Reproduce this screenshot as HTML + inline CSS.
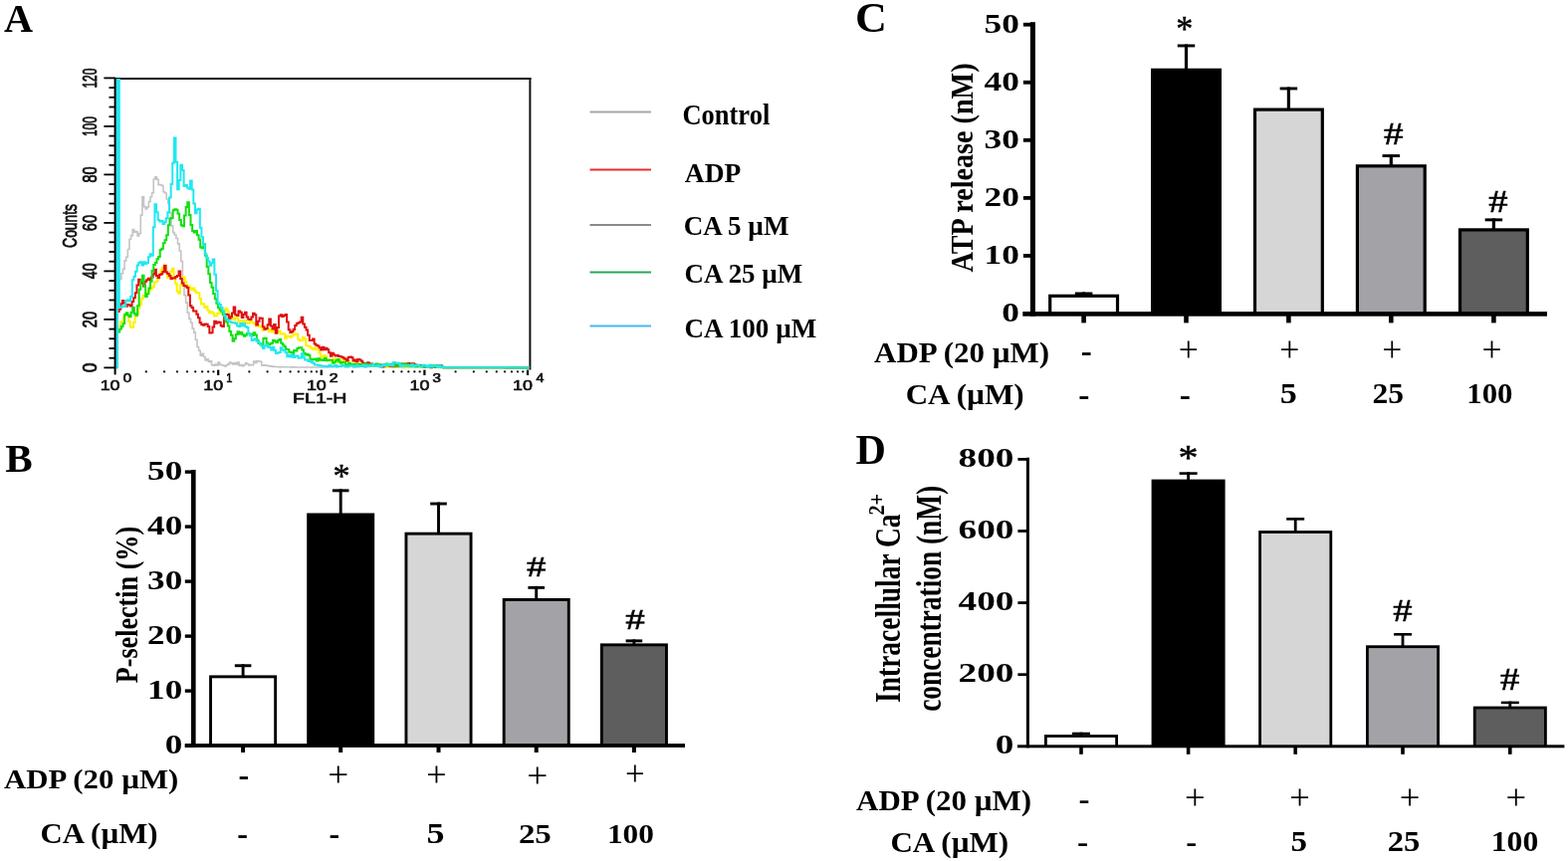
<!DOCTYPE html>
<html><head><meta charset="utf-8"><title>Figure</title>
<style>html,body{margin:0;padding:0;background:#fff;}svg{display:block;}</style>
</head><body>
<svg width="1575" height="865" viewBox="0 0 1575 865">
<rect width="1575" height="865" fill="#fff"/>
<text transform="translate(4.30,31.80) scale(0.9825,0.9980)" x="-0.41" y="0" font-family='"Liberation Serif", serif' font-weight="bold" font-size="41.00" fill="#000">A</text>
<text transform="translate(5.80,473.50) scale(1.0029,1.0017)" x="-0.61" y="0" font-family='"Liberation Serif", serif' font-weight="bold" font-size="41.00" fill="#000">B</text>
<text transform="translate(861.30,31.90) scale(1.0781,1.0315)" x="-2.05" y="0" font-family='"Liberation Serif", serif' font-weight="bold" font-size="41.00" fill="#000">C</text>
<text transform="translate(860.10,465.60) scale(1.0273,1.0166)" x="-0.61" y="0" font-family='"Liberation Serif", serif' font-weight="bold" font-size="41.00" fill="#000">D</text>
<rect x="242.65" y="667.30" width="2.90" height="13.10" fill="#000"/>
<rect x="235.80" y="667.30" width="16.60" height="2.90" fill="#000"/>
<rect x="210.10" y="678.40" width="68.00" height="70.60" fill="#000"/>
<rect x="213.00" y="681.30" width="62.20" height="67.70" fill="#fff"/>
<rect x="340.75" y="491.40" width="2.90" height="26.10" fill="#000"/>
<rect x="333.90" y="491.40" width="16.60" height="2.90" fill="#000"/>
<rect x="308.20" y="515.50" width="68.00" height="233.50" fill="#000"/>
<rect x="439.05" y="504.60" width="2.90" height="32.10" fill="#000"/>
<rect x="432.20" y="504.60" width="16.60" height="2.90" fill="#000"/>
<rect x="406.50" y="534.70" width="68.00" height="214.30" fill="#000"/>
<rect x="409.40" y="537.60" width="62.20" height="211.40" fill="#d6d6d6"/>
<rect x="537.25" y="588.90" width="2.90" height="14.10" fill="#000"/>
<rect x="530.40" y="588.90" width="16.60" height="2.90" fill="#000"/>
<rect x="504.70" y="601.00" width="68.00" height="148.00" fill="#000"/>
<rect x="507.60" y="603.90" width="62.20" height="145.10" fill="#a3a2a7"/>
<rect x="635.45" y="642.40" width="2.90" height="6.00" fill="#000"/>
<rect x="628.60" y="642.40" width="16.60" height="2.90" fill="#000"/>
<rect x="602.90" y="646.40" width="68.00" height="102.60" fill="#000"/>
<rect x="605.80" y="649.30" width="62.20" height="99.70" fill="#5e5e5e"/>
<rect x="192.00" y="472.00" width="4.60" height="278.90" fill="#000"/>
<rect x="185.80" y="747.10" width="502.20" height="3.80" fill="#000"/>
<rect x="185.80" y="747.40" width="8.50" height="3.40" fill="#000"/>
<rect x="185.80" y="692.40" width="8.50" height="3.40" fill="#000"/>
<rect x="185.80" y="637.40" width="8.50" height="3.40" fill="#000"/>
<rect x="185.80" y="582.40" width="8.50" height="3.40" fill="#000"/>
<rect x="185.80" y="527.40" width="8.50" height="3.40" fill="#000"/>
<rect x="185.80" y="472.40" width="8.50" height="3.40" fill="#000"/>
<rect x="242.10" y="749.00" width="4.00" height="7.00" fill="#000"/>
<rect x="340.20" y="749.00" width="4.00" height="7.00" fill="#000"/>
<rect x="438.50" y="749.00" width="4.00" height="7.00" fill="#000"/>
<rect x="536.70" y="749.00" width="4.00" height="7.00" fill="#000"/>
<rect x="634.90" y="749.00" width="4.00" height="7.00" fill="#000"/>
<rect x="1087.00" y="293.50" width="3.20" height="4.20" fill="#000"/>
<rect x="1079.85" y="293.50" width="17.50" height="2.90" fill="#000"/>
<rect x="1053.10" y="295.70" width="71.00" height="19.70" fill="#000"/>
<rect x="1056.30" y="298.90" width="64.60" height="16.50" fill="#fff"/>
<rect x="1189.90" y="44.50" width="3.20" height="26.20" fill="#000"/>
<rect x="1182.75" y="44.50" width="17.50" height="2.90" fill="#000"/>
<rect x="1156.00" y="68.70" width="71.00" height="246.70" fill="#000"/>
<rect x="1292.80" y="87.50" width="3.20" height="23.00" fill="#000"/>
<rect x="1285.65" y="87.50" width="17.50" height="2.90" fill="#000"/>
<rect x="1258.90" y="108.50" width="71.00" height="206.90" fill="#000"/>
<rect x="1262.10" y="111.70" width="64.60" height="203.70" fill="#d6d6d6"/>
<rect x="1395.70" y="155.10" width="3.20" height="12.10" fill="#000"/>
<rect x="1388.55" y="155.10" width="17.50" height="2.90" fill="#000"/>
<rect x="1361.80" y="165.20" width="71.00" height="150.20" fill="#000"/>
<rect x="1365.00" y="168.40" width="64.60" height="147.00" fill="#a3a2a7"/>
<rect x="1498.80" y="219.40" width="3.20" height="11.90" fill="#000"/>
<rect x="1491.65" y="219.40" width="17.50" height="2.90" fill="#000"/>
<rect x="1464.90" y="229.30" width="71.00" height="86.10" fill="#000"/>
<rect x="1468.10" y="232.50" width="64.60" height="82.90" fill="#5e5e5e"/>
<rect x="1034.90" y="22.20" width="5.00" height="295.50" fill="#000"/>
<rect x="1027.30" y="313.10" width="526.70" height="4.60" fill="#000"/>
<rect x="1027.90" y="313.10" width="9.50" height="3.80" fill="#000"/>
<rect x="1027.90" y="255.04" width="9.50" height="3.80" fill="#000"/>
<rect x="1027.90" y="196.98" width="9.50" height="3.80" fill="#000"/>
<rect x="1027.90" y="138.92" width="9.50" height="3.80" fill="#000"/>
<rect x="1027.90" y="80.86" width="9.50" height="3.80" fill="#000"/>
<rect x="1027.90" y="22.80" width="9.50" height="3.80" fill="#000"/>
<rect x="1086.30" y="315.40" width="4.60" height="9.00" fill="#000"/>
<rect x="1189.20" y="315.40" width="4.60" height="9.00" fill="#000"/>
<rect x="1292.10" y="315.40" width="4.60" height="9.00" fill="#000"/>
<rect x="1395.00" y="315.40" width="4.60" height="9.00" fill="#000"/>
<rect x="1498.10" y="315.40" width="4.60" height="9.00" fill="#000"/>
<rect x="1084.60" y="735.70" width="2.80" height="4.40" fill="#000"/>
<rect x="1077.00" y="735.70" width="18.00" height="2.60" fill="#000"/>
<rect x="1049.00" y="738.10" width="74.00" height="11.70" fill="#000"/>
<rect x="1051.80" y="740.90" width="68.40" height="8.90" fill="#fff"/>
<rect x="1192.20" y="474.30" width="2.80" height="9.30" fill="#000"/>
<rect x="1184.60" y="474.30" width="18.00" height="2.60" fill="#000"/>
<rect x="1156.60" y="481.60" width="74.00" height="268.20" fill="#000"/>
<rect x="1299.80" y="520.10" width="2.80" height="15.00" fill="#000"/>
<rect x="1292.20" y="520.10" width="18.00" height="2.60" fill="#000"/>
<rect x="1264.20" y="533.10" width="74.00" height="216.70" fill="#000"/>
<rect x="1267.00" y="535.90" width="68.40" height="213.90" fill="#d6d6d6"/>
<rect x="1407.60" y="636.00" width="2.80" height="14.30" fill="#000"/>
<rect x="1400.00" y="636.00" width="18.00" height="2.60" fill="#000"/>
<rect x="1372.00" y="648.30" width="74.00" height="101.50" fill="#000"/>
<rect x="1374.80" y="651.10" width="68.40" height="98.70" fill="#a3a2a7"/>
<rect x="1515.40" y="704.60" width="2.80" height="7.00" fill="#000"/>
<rect x="1507.80" y="704.60" width="18.00" height="2.60" fill="#000"/>
<rect x="1479.80" y="709.60" width="74.00" height="40.20" fill="#000"/>
<rect x="1482.60" y="712.40" width="68.40" height="37.40" fill="#5e5e5e"/>
<rect x="1030.90" y="459.70" width="3.00" height="291.60" fill="#000"/>
<rect x="1022.00" y="748.30" width="549.40" height="3.00" fill="#000"/>
<rect x="1022.40" y="676.30" width="10.00" height="2.80" fill="#000"/>
<rect x="1022.40" y="604.20" width="10.00" height="2.80" fill="#000"/>
<rect x="1022.40" y="532.10" width="10.00" height="2.80" fill="#000"/>
<rect x="1022.40" y="460.00" width="10.00" height="2.80" fill="#000"/>
<rect x="1084.20" y="749.80" width="3.60" height="8.00" fill="#000"/>
<rect x="1191.80" y="749.80" width="3.60" height="8.00" fill="#000"/>
<rect x="1299.40" y="749.80" width="3.60" height="8.00" fill="#000"/>
<rect x="1407.20" y="749.80" width="3.60" height="8.00" fill="#000"/>
<rect x="1515.00" y="749.80" width="3.60" height="8.00" fill="#000"/>
<line x1="115.60" y1="79.00" x2="533.40" y2="79.00" stroke="#111" stroke-width="2.00"/>
<line x1="532.40" y1="78.00" x2="532.40" y2="371.50" stroke="#111" stroke-width="2.00"/>
<path d="M118.60,182.00 V282.00 H120.22 V280.45 H121.84 V274.80 H123.46 V270.38 H125.08 V261.83 H126.70 V258.27 H128.32 V250.56 H129.94 V240.55 H131.56 V236.58 H133.18 V230.56 H134.80 V233.14 H136.42 V232.63 H138.04 V237.02 H139.66 V234.55 H141.28 V216.16 H142.90 V197.81 H144.52 V207.61 H146.14 V209.85 H147.76 V207.97 H149.38 V202.60 H151.00 V197.78 H152.62 V193.78 H154.24 V179.96 H155.86 V177.82 H157.48 V180.23 H159.10 V185.73 H160.72 V185.62 H162.34 V186.56 H163.96 V192.82 H165.58 V194.05 H167.20 V199.94 H168.82 V204.34 H170.44 V213.68 H172.06 V226.91 H173.68 V233.65 H175.30 V236.06 H176.92 V239.55 H178.54 V244.87 H180.16 V252.03 H181.78 V262.45 H183.40 V280.71 H185.02 V296.60 H186.64 V304.08 H188.26 V314.14 H189.88 V320.26 H191.50 V324.24 H193.12 V330.00 H194.74 V334.09 H196.36 V341.18 H197.98 V348.44 H199.60 V352.18 H201.22 V357.16 H202.84 V355.30 H204.46 V358.55 H206.08 V361.97 H207.70 V360.85 H209.32 V363.56 H210.94 V362.81 H212.56 V366.81 H214.18 V367.26 H215.80 V366.00 H217.42 V366.91 H219.04 V364.02 H220.66 V366.40 H222.28 V366.78 H223.90 V367.19 H225.52 V367.98 H227.14 V366.76 H228.76 V365.88 H230.38 V364.11 H232.00 V364.92 H233.62 V366.02 H235.24 V364.59 H236.86 V366.07 H238.48 V364.06 H240.10 V367.13 H241.72 V366.48 H243.34 V367.59 H244.96 V366.43 H246.58 V364.68 H248.20 V365.78 H249.82 V366.93 H251.44 V366.46 H253.06 V366.59 H254.68 V363.14 H256.30 V364.47 H257.92 V362.57 H259.54 V362.98 H261.16 V363.41 H262.78 V367.23 H264.40 V366.74 H266.02 V367.15 H267.64 V367.40 H269.26 V367.64 H270.88 V367.88 H272.50 V368.13 H274.12 V368.37 H275.74 V368.51 H277.36 V368.55 H278.98 V368.58 H280.60 V368.61 H282.22 V368.64 H283.84 V368.68 H285.46 V368.71 H287.08 V368.74 H288.70 V368.77 H290.32 V368.81 H291.94 V368.84 H293.56 V368.87 H295.18 V368.90 H296.80 V368.94 H298.42 V368.97 H300.04 V369.00 H301.66 V369.00 H303.28 V369.00 H304.90 V369.00 H306.52 V369.00 H308.14 V369.00 H309.76 V369.00 H311.38 V369.00 H313.00 V369.00 H314.62 V369.00 H316.24 V369.00 H317.86 V369.00 H319.48 V369.00 H321.10 V369.00 H322.72 V369.00 H324.34 V369.00 H325.96 V369.00 H327.58 V369.00 H329.20 V369.00 H330.82 V368.72 H332.44 V368.47 H334.06 V368.16 H335.68 V367.12 H337.30 V368.87 H338.92 V368.07 H340.54 V367.85 H342.16 V367.13 H343.78 V367.28 H345.40 V367.19 H347.02 V368.49 H348.64 V368.20 H350.26 V368.33 H351.88 V367.19 H353.50 V367.03 H355.12 V368.82 H356.74 V368.77 H358.36 V368.66 H359.98 V368.67 H361.60 V368.12 H363.22 V367.90 H364.84 V368.63 H366.46 V369.21 H368.08 V368.31 H369.70 V368.43 H371.32 V368.00 H372.94 V367.16 H374.56 V367.75 H376.18 V368.14 H377.80 V367.93 H379.42 V367.81 H381.04 V369.18 H382.66 V367.33 H384.28 V367.59 H385.90 V367.39 H387.52 V367.56 H389.14 V368.45 H390.76 V368.44 H392.38 V369.09 H394.00 V367.93 H395.62 V369.19 H397.24 V369.18 H398.86 V368.87 H400.48 V368.98 H402.10 V368.59 H403.72 V369.22 H405.34 V369.34 H406.96 V369.01 H408.58 V369.12 H410.20 V368.55 H411.82 V369.30 H413.44 V367.43 H415.06 V368.01 H416.68 V369.03 H418.30 V368.81 H419.92 V368.60 H421.54 V368.57 H423.16 V369.10 H424.78 V367.51 H426.40 V367.19 H428.02 V368.35 H429.64 V368.32 H431.26 V369.20 H432.88 V369.16 H434.50 V368.64 H436.12 V368.81 H437.74 V367.57 H439.36 V369.04 H440.98 V369.35 H442.60 V367.31 H444.22 V368.24 H445.84 V369.40 H447.46 V369.40 H449.08 V369.40 H450.70 V369.40 H452.32 V369.40 H453.94 V369.40 H455.56 V369.40 H457.18 V369.40 H458.80 V369.40 H460.42 V369.40 H462.04 V369.40 H463.66 V369.40 H465.28 V369.40 H466.90 V369.40 H468.52 V369.40 H470.14 V369.40 H471.76 V369.40 H473.38 V369.40 H475.00 V369.40 H476.62 V369.40 H478.24 V369.40 H479.86 V369.40 H481.48 V369.40 H483.10 V369.40 H484.72 V369.40 H486.34 V369.40 H487.96 V369.40 H489.58 V369.40 H491.20 V369.40 H492.82 V369.40 H494.44 V369.40 H496.06 V369.40 H497.68 V369.40 H499.30 V369.40 H500.92 V369.40 H502.54 V369.40 H504.16 V369.40 H505.78 V369.40 H507.40 V369.40 H509.02 V369.40 H510.64 V369.40 H512.26 V369.40 H513.88 V369.40 H515.50 V369.40 H517.12 V369.40 H518.74 V369.40 H520.36 V369.40 H521.98 V369.40 H523.60 V369.40 H525.22 V369.40 H526.84 V369.40 H528.46 V369.40 H530.08 V369.40 H531.40 V369.40" fill="none" stroke="#c4c4c4" stroke-width="1.60" stroke-linejoin="miter"/>
<path d="M119.40,327.40 H121.02 V323.59 H122.64 V323.08 H124.26 V318.29 H125.88 V316.60 H127.50 V316.62 H129.12 V322.70 H130.74 V328.55 H132.36 V329.02 H133.98 V323.92 H135.60 V317.73 H137.22 V315.54 H138.84 V309.62 H140.46 V305.85 H142.08 V300.13 H143.70 V296.86 H145.32 V296.64 H146.94 V294.60 H148.56 V292.25 H150.18 V290.82 H151.80 V289.64 H153.42 V288.07 H155.04 V283.83 H156.66 V282.97 H158.28 V280.12 H159.90 V275.12 H161.52 V271.43 H163.14 V268.85 H164.76 V265.92 H166.38 V272.69 H168.00 V278.71 H169.62 V278.76 H171.24 V272.76 H172.86 V269.67 H174.48 V278.41 H176.10 V284.65 H177.72 V292.77 H179.34 V294.86 H180.96 V286.52 H182.58 V278.35 H184.20 V278.61 H185.82 V283.55 H187.44 V287.01 H189.06 V287.50 H190.68 V289.47 H192.30 V291.33 H193.92 V289.39 H195.54 V292.60 H197.16 V294.22 H198.78 V294.17 H200.40 V299.93 H202.02 V305.42 H203.64 V305.18 H205.26 V308.95 H206.88 V308.04 H208.50 V311.75 H210.12 V314.15 H211.74 V313.26 H213.36 V314.65 H214.98 V317.44 H216.60 V316.86 H218.22 V314.81 H219.84 V314.36 H221.46 V313.21 H223.08 V315.27 H224.70 V313.58 H226.32 V309.78 H227.94 V311.97 H229.56 V316.03 H231.18 V320.26 H232.80 V319.55 H234.42 V321.06 H236.04 V319.50 H237.66 V319.15 H239.28 V323.52 H240.90 V322.37 H242.52 V322.14 H244.14 V324.24 H245.76 V322.35 H247.38 V324.59 H249.00 V324.70 H250.62 V322.60 H252.24 V323.61 H253.86 V324.62 H255.48 V325.22 H257.10 V327.58 H258.72 V326.85 H260.34 V328.24 H261.96 V327.65 H263.58 V331.76 H265.20 V329.77 H266.82 V330.47 H268.44 V331.25 H270.06 V332.90 H271.68 V331.02 H273.30 V333.48 H274.92 V331.92 H276.54 V332.33 H278.16 V333.17 H279.78 V332.24 H281.40 V335.38 H283.02 V335.37 H284.64 V335.57 H286.26 V340.06 H287.88 V337.46 H289.50 V338.24 H291.12 V338.79 H292.74 V337.50 H294.36 V335.84 H295.98 V336.02 H297.60 V335.53 H299.22 V340.66 H300.84 V342.32 H302.46 V342.28 H304.08 V338.87 H305.70 V340.82 H307.32 V347.21 H308.94 V347.45 H310.56 V348.24 H312.18 V349.66 H313.80 V350.90 H315.42 V349.49 H317.04 V350.90 H318.66 V351.34 H320.28 V354.61 H321.90 V358.65 H323.52 V357.88 H325.14 V357.21 H326.76 V357.89 H328.38 V361.21 H330.00 V361.44 H331.62 V362.62 H333.24 V363.12 H334.86 V360.32 H336.48 V361.84 H338.10 V363.74 H339.72 V363.75 H341.34 V361.13 H342.96 V361.54 H344.58 V363.43 H346.20 V362.29 H347.82 V363.51 H349.44 V363.12 H351.06 V366.07 H352.68 V366.90 H354.30 V367.73 H355.92 V364.80 H357.54 V365.07 H359.16 V365.37 H360.78 V366.65 H362.40 V365.17 H364.02 V365.13 H365.64 V366.92 H367.26 V365.46 H368.88 V366.82 H370.50 V366.77 H372.12 V365.81 H373.74 V366.30 H375.36 V367.93 H376.98 V367.48 H378.60 V367.44 H380.22 V367.96 H381.84 V368.29 H383.46 V368.03 H385.08 V367.16 H386.70 V368.72 H388.32 V367.56 H389.94 V367.83 H391.56 V368.78 H393.18 V368.10 H394.80 V367.48 H396.42 V367.74 H398.04 V368.74 H399.66 V366.73 H401.28 V367.18 H402.90 V366.79 H404.52 V368.71 H406.14 V368.38 H407.76 V368.89 H409.38 V367.28 H411.00 V368.42 H412.62 V368.74 H414.24 V368.11 H415.86 V367.05 H417.48 V367.27 H419.10 V368.52 H420.72 V368.78 H422.34 V367.10 H423.96 V367.88 H425.58 V367.61 H427.20 V368.98 H428.82 V369.06 H430.44 V367.69 H432.06 V368.28 H433.68 V369.08 H435.30 V367.19 H436.92 V367.87 H438.54 V367.52 H440.16 V369.12 H441.78 V367.42 H443.40 V369.16 H445.02 V369.31 H446.64 V369.31 H448.26 V369.31 H449.88 V369.31 H451.50 V369.31 H453.12 V369.31 H454.74 V369.32 H456.36 V369.32 H457.98 V369.32 H459.60 V369.32 H461.22 V369.32 H462.84 V369.32 H464.46 V369.33 H466.08 V369.33 H467.70 V369.33 H469.32 V369.33 H470.94 V369.33 H472.56 V369.34 H474.18 V369.34 H475.80 V369.34 H477.42 V369.34 H479.04 V369.34 H480.66 V369.34 H482.28 V369.35 H483.90 V369.35 H485.52 V369.35 H487.14 V369.35 H488.76 V369.35 H490.38 V369.35 H492.00 V369.36 H493.62 V369.36 H495.24 V369.36 H496.86 V369.36 H498.48 V369.36 H500.10 V369.36 H501.72 V369.37 H503.34 V369.37 H504.96 V369.37 H506.58 V369.37 H508.20 V369.37 H509.82 V369.38 H511.44 V369.38 H513.06 V369.38 H514.68 V369.38 H516.30 V369.38 H517.92 V369.38 H519.54 V369.39 H521.16 V369.39 H522.78 V369.39 H524.40 V369.39 H526.02 V369.39 H527.64 V369.39 H529.26 V369.40 H530.88 V369.40 H531.40 V369.40" fill="none" stroke="#fbf200" stroke-width="2.00" stroke-linejoin="miter"/>
<path d="M118.00,313.00 H119.62 V310.78 H121.24 V305.16 H122.86 V302.05 H124.48 V304.61 H126.10 V307.72 H127.72 V305.92 H129.34 V306.41 H130.96 V307.50 H132.58 V302.99 H134.20 V299.18 H135.82 V294.17 H137.44 V286.50 H139.06 V280.85 H140.68 V282.99 H142.30 V284.61 H143.92 V287.43 H145.54 V282.79 H147.16 V281.14 H148.78 V279.64 H150.40 V280.97 H152.02 V278.42 H153.64 V275.62 H155.26 V270.76 H156.88 V276.99 H158.50 V279.12 H160.12 V275.91 H161.74 V275.18 H163.36 V273.07 H164.98 V267.04 H166.60 V273.45 H168.22 V275.03 H169.84 V277.02 H171.46 V279.90 H173.08 V279.34 H174.70 V279.62 H176.32 V278.07 H177.94 V277.03 H179.56 V272.62 H181.18 V279.97 H182.80 V284.61 H184.42 V287.02 H186.04 V287.62 H187.66 V288.99 H189.28 V296.38 H190.90 V307.27 H192.52 V308.89 H194.14 V312.51 H195.76 V312.47 H197.38 V315.79 H199.00 V319.17 H200.62 V324.19 H202.24 V326.01 H203.86 V326.64 H205.48 V325.48 H207.10 V325.86 H208.72 V327.97 H210.34 V334.39 H211.96 V334.34 H213.58 V328.52 H215.20 V322.83 H216.82 V324.74 H218.44 V323.62 H220.06 V323.76 H221.68 V327.24 H223.30 V328.05 H224.92 V317.06 H226.54 V315.70 H228.16 V316.20 H229.78 V319.94 H231.40 V318.15 H233.02 V314.55 H234.64 V308.57 H236.26 V316.15 H237.88 V316.91 H239.50 V312.58 H241.12 V313.83 H242.74 V318.92 H244.36 V315.69 H245.98 V313.75 H247.60 V318.55 H249.22 V320.78 H250.84 V320.95 H252.46 V318.56 H254.08 V314.73 H255.70 V316.28 H257.32 V326.47 H258.94 V322.71 H260.56 V319.38 H262.18 V319.66 H263.80 V328.14 H265.42 V330.72 H267.04 V329.97 H268.66 V326.34 H270.28 V320.43 H271.90 V327.56 H273.52 V330.57 H275.14 V326.08 H276.76 V334.85 H278.38 V328.90 H280.00 V317.43 H281.62 V316.31 H283.24 V318.10 H284.86 V316.88 H286.48 V316.08 H288.10 V323.48 H289.72 V331.16 H291.34 V334.03 H292.96 V333.10 H294.58 V330.97 H296.20 V326.92 H297.82 V324.98 H299.44 V324.15 H301.06 V323.53 H302.68 V318.79 H304.30 V325.62 H305.92 V328.65 H307.54 V331.60 H309.16 V336.79 H310.78 V341.98 H312.40 V341.95 H314.02 V340.62 H315.64 V345.45 H317.26 V346.85 H318.88 V347.40 H320.50 V349.21 H322.12 V351.41 H323.74 V348.76 H325.36 V351.30 H326.98 V349.73 H328.60 V351.23 H330.22 V354.35 H331.84 V357.69 H333.46 V354.72 H335.08 V356.41 H336.70 V357.49 H338.32 V356.99 H339.94 V358.12 H341.56 V358.34 H343.18 V358.84 H344.80 V359.69 H346.42 V360.69 H348.04 V362.41 H349.66 V359.09 H351.28 V358.57 H352.90 V359.33 H354.52 V362.47 H356.14 V361.54 H357.76 V363.24 H359.38 V361.05 H361.00 V361.51 H362.62 V362.67 H364.24 V364.76 H365.86 V365.18 H367.48 V365.43 H369.10 V364.35 H370.72 V366.01 H372.34 V365.57 H373.96 V366.04 H375.58 V367.24 H377.20 V365.98 H378.82 V367.94 H380.44 V366.53 H382.06 V366.57 H383.68 V368.53 H385.30 V367.50 H386.92 V366.65 H388.54 V366.27 H390.16 V367.36 H391.78 V367.70 H393.40 V367.77 H395.02 V366.09 H396.64 V367.65 H398.26 V366.78 H399.88 V367.69 H401.50 V366.70 H403.12 V365.59 H404.74 V367.23 H406.36 V365.56 H407.98 V366.08 H409.60 V365.09 H411.22 V365.33 H412.84 V366.42 H414.46 V365.19 H416.08 V366.34 H417.70 V367.60 H419.32 V367.89 H420.94 V367.04 H422.56 V367.34 H424.18 V367.88 H425.80 V368.44 H427.42 V368.21 H429.04 V368.48 H430.66 V367.45 H432.28 V369.30 H433.90 V367.65 H435.52 V367.46 H437.14 V369.04 H438.76 V367.27 H440.38 V367.74 H442.00 V367.33 H443.62 V368.68 H445.24 V369.31 H446.86 V369.32 H448.48 V369.32 H450.10 V369.32 H451.72 V369.32 H453.34 V369.32 H454.96 V369.32 H456.58 V369.33 H458.20 V369.33 H459.82 V369.33 H461.44 V369.33 H463.06 V369.33 H464.68 V369.33 H466.30 V369.34 H467.92 V369.34 H469.54 V369.34 H471.16 V369.34 H472.78 V369.34 H474.40 V369.34 H476.02 V369.34 H477.64 V369.35 H479.26 V369.35 H480.88 V369.35 H482.50 V369.35 H484.12 V369.35 H485.74 V369.35 H487.36 V369.36 H488.98 V369.36 H490.60 V369.36 H492.22 V369.36 H493.84 V369.36 H495.46 V369.36 H497.08 V369.37 H498.70 V369.37 H500.32 V369.37 H501.94 V369.37 H503.56 V369.37 H505.18 V369.37 H506.80 V369.37 H508.42 V369.38 H510.04 V369.38 H511.66 V369.38 H513.28 V369.38 H514.90 V369.38 H516.52 V369.38 H518.14 V369.39 H519.76 V369.39 H521.38 V369.39 H523.00 V369.39 H524.62 V369.39 H526.24 V369.39 H527.86 V369.40 H529.48 V369.40 H531.10 V369.40 H531.40 V369.40" fill="none" stroke="#e01010" stroke-width="2.00" stroke-linejoin="miter"/>
<path d="M118.60,333.60 H120.22 V330.46 H121.84 V327.98 H123.46 V325.23 H125.08 V316.06 H126.70 V314.16 H128.32 V316.63 H129.94 V318.13 H131.56 V313.79 H133.18 V309.11 H134.80 V315.20 H136.42 V316.86 H138.04 V307.16 H139.66 V290.73 H141.28 V282.57 H142.90 V276.80 H144.52 V287.56 H146.14 V297.95 H147.76 V295.13 H149.38 V289.44 H151.00 V282.66 H152.62 V272.09 H154.24 V266.10 H155.86 V264.04 H157.48 V260.15 H159.10 V257.92 H160.72 V250.92 H162.34 V249.87 H163.96 V244.36 H165.58 V241.37 H167.20 V236.31 H168.82 V226.29 H170.44 V219.38 H172.06 V218.88 H173.68 V211.13 H175.30 V210.17 H176.92 V210.65 H178.54 V214.69 H180.16 V221.05 H181.78 V226.25 H183.40 V227.14 H185.02 V216.61 H186.64 V208.12 H188.26 V203.21 H189.88 V215.96 H191.50 V226.01 H193.12 V231.89 H194.74 V233.44 H196.36 V232.10 H197.98 V236.37 H199.60 V240.67 H201.22 V248.55 H202.84 V249.24 H204.46 V245.22 H206.08 V256.63 H207.70 V267.91 H209.32 V275.14 H210.94 V283.92 H212.56 V288.85 H214.18 V294.88 H215.80 V300.34 H217.42 V304.99 H219.04 V309.19 H220.66 V311.39 H222.28 V312.71 H223.90 V316.33 H225.52 V320.50 H227.14 V323.54 H228.76 V327.47 H230.38 V332.96 H232.00 V336.85 H233.62 V342.83 H235.24 V340.23 H236.86 V336.06 H238.48 V333.30 H240.10 V335.53 H241.72 V333.89 H243.34 V336.32 H244.96 V337.79 H246.58 V336.54 H248.20 V334.83 H249.82 V335.37 H251.44 V335.86 H253.06 V336.93 H254.68 V334.21 H256.30 V336.54 H257.92 V341.80 H259.54 V344.91 H261.16 V345.79 H262.78 V347.27 H264.40 V339.93 H266.02 V339.66 H267.64 V344.47 H269.26 V346.47 H270.88 V345.48 H272.50 V344.78 H274.12 V341.81 H275.74 V342.82 H277.36 V344.10 H278.98 V341.92 H280.60 V340.85 H282.22 V344.75 H283.84 V346.53 H285.46 V348.29 H287.08 V350.75 H288.70 V351.35 H290.32 V353.82 H291.94 V353.64 H293.56 V357.08 H295.18 V352.05 H296.80 V352.46 H298.42 V349.95 H300.04 V349.26 H301.66 V349.29 H303.28 V351.39 H304.90 V354.70 H306.52 V356.59 H308.14 V355.63 H309.76 V357.07 H311.38 V360.69 H313.00 V361.45 H314.62 V360.92 H316.24 V360.53 H317.86 V362.52 H319.48 V360.25 H321.10 V361.87 H322.72 V361.31 H324.34 V361.88 H325.96 V359.89 H327.58 V362.27 H329.20 V361.79 H330.82 V361.63 H332.44 V361.69 H334.06 V364.83 H335.68 V363.70 H337.30 V361.95 H338.92 V360.91 H340.54 V363.49 H342.16 V364.74 H343.78 V364.10 H345.40 V363.86 H347.02 V366.15 H348.64 V367.70 H350.26 V364.96 H351.88 V366.42 H353.50 V366.08 H355.12 V366.23 H356.74 V365.98 H358.36 V367.26 H359.98 V365.95 H361.60 V366.07 H363.22 V366.59 H364.84 V367.25 H366.46 V365.57 H368.08 V367.01 H369.70 V365.90 H371.32 V367.19 H372.94 V367.21 H374.56 V366.03 H376.18 V367.05 H377.80 V365.61 H379.42 V366.61 H381.04 V367.28 H382.66 V367.18 H384.28 V366.74 H385.90 V366.18 H387.52 V365.54 H389.14 V367.29 H390.76 V366.73 H392.38 V367.11 H394.00 V365.42 H395.62 V367.23 H397.24 V367.41 H398.86 V367.38 H400.48 V366.66 H402.10 V365.63 H403.72 V365.74 H405.34 V366.16 H406.96 V365.65 H408.58 V365.88 H410.20 V367.29 H411.82 V367.68 H413.44 V366.11 H415.06 V366.61 H416.68 V368.26 H418.30 V366.95 H419.92 V367.66 H421.54 V367.73 H423.16 V367.88 H424.78 V368.29 H426.40 V368.72 H428.02 V368.17 H429.64 V368.06 H431.26 V366.79 H432.88 V368.68 H434.50 V366.89 H436.12 V368.61 H437.74 V368.34 H439.36 V367.37 H440.98 V367.39 H442.60 V368.25 H444.22 V369.10 H445.84 V369.21 H447.46 V369.22 H449.08 V369.22 H450.70 V369.22 H452.32 V369.23 H453.94 V369.23 H455.56 V369.23 H457.18 V369.24 H458.80 V369.24 H460.42 V369.24 H462.04 V369.25 H463.66 V369.25 H465.28 V369.25 H466.90 V369.26 H468.52 V369.26 H470.14 V369.26 H471.76 V369.27 H473.38 V369.27 H475.00 V369.28 H476.62 V369.28 H478.24 V369.28 H479.86 V369.29 H481.48 V369.29 H483.10 V369.29 H484.72 V369.30 H486.34 V369.30 H487.96 V369.30 H489.58 V369.31 H491.20 V369.31 H492.82 V369.31 H494.44 V369.32 H496.06 V369.32 H497.68 V369.32 H499.30 V369.33 H500.92 V369.33 H502.54 V369.33 H504.16 V369.34 H505.78 V369.34 H507.40 V369.34 H509.02 V369.35 H510.64 V369.35 H512.26 V369.36 H513.88 V369.36 H515.50 V369.36 H517.12 V369.37 H518.74 V369.37 H520.36 V369.37 H521.98 V369.38 H523.60 V369.38 H525.22 V369.38 H526.84 V369.39 H528.46 V369.39 H530.08 V369.39 H531.40 V369.40" fill="none" stroke="#10e010" stroke-width="2.00" stroke-linejoin="miter"/>
<path d="M119.80,79.00 V308.70 H121.42 V308.58 H123.04 V307.42 H124.66 V307.65 H126.28 V302.28 H127.90 V301.33 H129.52 V302.58 H131.14 V297.68 H132.76 V281.34 H134.38 V277.68 H136.00 V272.66 H137.62 V266.56 H139.24 V264.06 H140.86 V263.18 H142.48 V266.53 H144.10 V263.20 H145.72 V264.94 H147.34 V264.05 H148.96 V258.31 H150.58 V255.24 H152.20 V256.69 H153.82 V228.30 H155.44 V205.32 H157.06 V213.29 H158.68 V220.97 H160.30 V222.41 H161.92 V222.02 H163.54 V225.10 H165.16 V223.18 H166.78 V219.31 H168.40 V213.37 H170.02 V198.58 H171.64 V184.88 H173.26 V163.68 H174.88 V138.53 H176.50 V162.87 H178.12 V190.30 H179.74 V180.94 H181.36 V165.69 H182.98 V170.96 H184.60 V186.98 H186.22 V186.05 H187.84 V188.45 H189.46 V189.63 H191.08 V181.55 H192.70 V190.55 H194.32 V204.40 H195.94 V214.29 H197.56 V210.60 H199.18 V209.85 H200.80 V228.66 H202.42 V238.23 H204.04 V245.64 H205.66 V254.97 H207.28 V258.89 H208.90 V262.49 H210.52 V266.76 H212.14 V264.22 H213.76 V260.57 H215.38 V275.68 H217.00 V292.11 H218.62 V304.24 H220.24 V305.97 H221.86 V308.97 H223.48 V312.23 H225.10 V317.20 H226.72 V320.56 H228.34 V321.57 H229.96 V322.81 H231.58 V323.72 H233.20 V324.36 H234.82 V324.34 H236.44 V325.04 H238.06 V327.14 H239.68 V328.00 H241.30 V324.98 H242.92 V327.34 H244.54 V325.23 H246.16 V328.05 H247.78 V328.97 H249.40 V335.14 H251.02 V337.33 H252.64 V341.97 H254.26 V341.30 H255.88 V340.24 H257.50 V342.79 H259.12 V343.73 H260.74 V344.90 H262.36 V347.49 H263.98 V349.90 H265.60 V347.49 H267.22 V346.00 H268.84 V348.68 H270.46 V348.97 H272.08 V351.43 H273.70 V348.65 H275.32 V351.91 H276.94 V355.04 H278.56 V354.59 H280.18 V353.96 H281.80 V349.16 H283.42 V351.41 H285.04 V352.26 H286.66 V354.19 H288.28 V358.20 H289.90 V356.76 H291.52 V358.56 H293.14 V356.42 H294.76 V359.11 H296.38 V357.80 H298.00 V357.49 H299.62 V359.63 H301.24 V359.60 H302.86 V355.24 H304.48 V359.35 H306.10 V361.40 H307.72 V361.57 H309.34 V363.03 H310.96 V362.82 H312.58 V363.90 H314.20 V364.74 H315.82 V366.59 H317.44 V366.48 H319.06 V366.81 H320.68 V367.14 H322.30 V367.48 H323.92 V367.74 H325.54 V367.84 H327.16 V367.95 H328.78 V368.06 H330.40 V366.74 H332.02 V367.83 H333.64 V368.37 H335.26 V367.78 H336.88 V367.12 H338.50 V368.29 H340.12 V368.00 H341.74 V368.24 H343.36 V366.93 H344.98 V367.46 H346.60 V368.52 H348.22 V368.43 H349.84 V367.77 H351.46 V367.43 H353.08 V367.22 H354.70 V368.42 H356.32 V368.25 H357.94 V367.08 H359.56 V367.70 H361.18 V367.97 H362.80 V367.91 H364.42 V366.48 H366.04 V367.88 H367.66 V367.31 H369.28 V367.77 H370.90 V367.63 H372.52 V366.63 H374.14 V366.34 H375.76 V367.72 H377.38 V368.08 H379.00 V366.90 H380.62 V368.01 H382.24 V368.33 H383.86 V366.24 H385.48 V367.18 H387.10 V366.19 H388.72 V366.98 H390.34 V365.82 H391.96 V366.63 H393.58 V367.17 H395.20 V364.04 H396.82 V364.61 H398.44 V364.90 H400.06 V364.76 H401.68 V368.02 H403.30 V366.90 H404.92 V367.49 H406.54 V367.25 H408.16 V368.08 H409.78 V367.82 H411.40 V367.35 H413.02 V366.50 H414.64 V368.35 H416.26 V367.55 H417.88 V366.91 H419.50 V366.59 H421.12 V368.33 H422.74 V368.53 H424.36 V366.78 H425.98 V366.76 H427.60 V367.89 H429.22 V368.88 H430.84 V367.00 H432.46 V368.23 H434.08 V367.14 H435.70 V367.81 H437.32 V367.41 H438.94 V368.92 H440.56 V367.57 H442.18 V368.81 H443.80 V368.41 H445.42 V369.31 H447.04 V369.31 H448.66 V369.31 H450.28 V369.31 H451.90 V369.31 H453.52 V369.31 H455.14 V369.32 H456.76 V369.32 H458.38 V369.32 H460.00 V369.32 H461.62 V369.32 H463.24 V369.32 H464.86 V369.33 H466.48 V369.33 H468.10 V369.33 H469.72 V369.33 H471.34 V369.33 H472.96 V369.34 H474.58 V369.34 H476.20 V369.34 H477.82 V369.34 H479.44 V369.34 H481.06 V369.34 H482.68 V369.35 H484.30 V369.35 H485.92 V369.35 H487.54 V369.35 H489.16 V369.35 H490.78 V369.35 H492.40 V369.36 H494.02 V369.36 H495.64 V369.36 H497.26 V369.36 H498.88 V369.36 H500.50 V369.37 H502.12 V369.37 H503.74 V369.37 H505.36 V369.37 H506.98 V369.37 H508.60 V369.37 H510.22 V369.38 H511.84 V369.38 H513.46 V369.38 H515.08 V369.38 H516.70 V369.38 H518.32 V369.38 H519.94 V369.39 H521.56 V369.39 H523.18 V369.39 H524.80 V369.39 H526.42 V369.39 H528.04 V369.39 H529.66 V369.40 H531.28 V369.40 H531.40 V369.40" fill="none" stroke="#20e8f0" stroke-width="2.00" stroke-linejoin="miter"/>
<rect x="116.50" y="79.00" width="2.50" height="291.40" fill="#20e8f0"/>
<rect x="114.60" y="78.00" width="2.00" height="298.40" fill="#000"/>
<rect x="104.40" y="368.50" width="11.60" height="1.80" fill="#000"/>
<rect x="109.50" y="358.80" width="6.50" height="1.80" fill="#000"/>
<rect x="109.50" y="349.10" width="6.50" height="1.80" fill="#000"/>
<rect x="109.50" y="339.40" width="6.50" height="1.80" fill="#000"/>
<rect x="109.50" y="329.70" width="6.50" height="1.80" fill="#000"/>
<rect x="104.40" y="320.00" width="11.60" height="1.80" fill="#000"/>
<rect x="109.50" y="310.30" width="6.50" height="1.80" fill="#000"/>
<rect x="109.50" y="300.60" width="6.50" height="1.80" fill="#000"/>
<rect x="109.50" y="290.90" width="6.50" height="1.80" fill="#000"/>
<rect x="109.50" y="281.20" width="6.50" height="1.80" fill="#000"/>
<rect x="104.40" y="271.50" width="11.60" height="1.80" fill="#000"/>
<rect x="109.50" y="261.80" width="6.50" height="1.80" fill="#000"/>
<rect x="109.50" y="252.10" width="6.50" height="1.80" fill="#000"/>
<rect x="109.50" y="242.40" width="6.50" height="1.80" fill="#000"/>
<rect x="109.50" y="232.70" width="6.50" height="1.80" fill="#000"/>
<rect x="104.40" y="223.00" width="11.60" height="1.80" fill="#000"/>
<rect x="109.50" y="213.30" width="6.50" height="1.80" fill="#000"/>
<rect x="109.50" y="203.60" width="6.50" height="1.80" fill="#000"/>
<rect x="109.50" y="193.90" width="6.50" height="1.80" fill="#000"/>
<rect x="109.50" y="184.20" width="6.50" height="1.80" fill="#000"/>
<rect x="104.40" y="174.50" width="11.60" height="1.80" fill="#000"/>
<rect x="109.50" y="164.80" width="6.50" height="1.80" fill="#000"/>
<rect x="109.50" y="155.10" width="6.50" height="1.80" fill="#000"/>
<rect x="109.50" y="145.40" width="6.50" height="1.80" fill="#000"/>
<rect x="109.50" y="135.70" width="6.50" height="1.80" fill="#000"/>
<rect x="104.40" y="126.00" width="11.60" height="1.80" fill="#000"/>
<rect x="109.50" y="116.30" width="6.50" height="1.80" fill="#000"/>
<rect x="109.50" y="106.60" width="6.50" height="1.80" fill="#000"/>
<rect x="109.50" y="96.90" width="6.50" height="1.80" fill="#000"/>
<rect x="109.50" y="87.20" width="6.50" height="1.80" fill="#000"/>
<rect x="104.40" y="77.50" width="11.60" height="1.80" fill="#000"/>
<circle cx="146.79" cy="373.4" r="1.15" fill="#111"/>
<circle cx="165.03" cy="373.4" r="1.15" fill="#111"/>
<circle cx="177.97" cy="373.4" r="1.15" fill="#111"/>
<circle cx="188.01" cy="373.4" r="1.15" fill="#111"/>
<circle cx="196.22" cy="373.4" r="1.15" fill="#111"/>
<circle cx="203.15" cy="373.4" r="1.15" fill="#111"/>
<circle cx="209.16" cy="373.4" r="1.15" fill="#111"/>
<circle cx="214.46" cy="373.4" r="1.15" fill="#111"/>
<rect x="218.10" y="371.60" width="2.20" height="5.40" fill="#000"/>
<circle cx="250.39" cy="373.4" r="1.15" fill="#111"/>
<circle cx="268.63" cy="373.4" r="1.15" fill="#111"/>
<circle cx="281.57" cy="373.4" r="1.15" fill="#111"/>
<circle cx="291.61" cy="373.4" r="1.15" fill="#111"/>
<circle cx="299.82" cy="373.4" r="1.15" fill="#111"/>
<circle cx="306.75" cy="373.4" r="1.15" fill="#111"/>
<circle cx="312.76" cy="373.4" r="1.15" fill="#111"/>
<circle cx="318.06" cy="373.4" r="1.15" fill="#111"/>
<rect x="321.70" y="371.60" width="2.20" height="5.40" fill="#000"/>
<circle cx="353.99" cy="373.4" r="1.15" fill="#111"/>
<circle cx="372.23" cy="373.4" r="1.15" fill="#111"/>
<circle cx="385.17" cy="373.4" r="1.15" fill="#111"/>
<circle cx="395.21" cy="373.4" r="1.15" fill="#111"/>
<circle cx="403.42" cy="373.4" r="1.15" fill="#111"/>
<circle cx="410.35" cy="373.4" r="1.15" fill="#111"/>
<circle cx="416.36" cy="373.4" r="1.15" fill="#111"/>
<circle cx="421.66" cy="373.4" r="1.15" fill="#111"/>
<rect x="425.30" y="371.60" width="2.20" height="5.40" fill="#000"/>
<circle cx="457.59" cy="373.4" r="1.15" fill="#111"/>
<circle cx="475.83" cy="373.4" r="1.15" fill="#111"/>
<circle cx="488.77" cy="373.4" r="1.15" fill="#111"/>
<circle cx="498.81" cy="373.4" r="1.15" fill="#111"/>
<circle cx="507.02" cy="373.4" r="1.15" fill="#111"/>
<circle cx="513.95" cy="373.4" r="1.15" fill="#111"/>
<circle cx="519.96" cy="373.4" r="1.15" fill="#111"/>
<circle cx="525.26" cy="373.4" r="1.15" fill="#111"/>
<rect x="528.90" y="371.60" width="2.20" height="5.40" fill="#000"/>
<text transform="translate(97.40,373.60) rotate(-90) scale(1.3462,1.5385)" x="-0.52" y="0" font-family='"Liberation Sans", sans-serif' font-weight="normal" font-size="13.00" fill="#111" stroke="#111" stroke-width="0.55">0</text>
<text transform="translate(97.40,328.40) rotate(-90) scale(1.1257,1.5385)" x="-0.65" y="0" font-family='"Liberation Sans", sans-serif' font-weight="normal" font-size="13.00" fill="#111" stroke="#111" stroke-width="0.55">20</text>
<text transform="translate(97.40,279.90) rotate(-90) scale(1.0937,1.5385)" x="-0.26" y="0" font-family='"Liberation Sans", sans-serif' font-weight="normal" font-size="13.00" fill="#111" stroke="#111" stroke-width="0.55">40</text>
<text transform="translate(97.40,231.40) rotate(-90) scale(1.1257,1.5385)" x="-0.65" y="0" font-family='"Liberation Sans", sans-serif' font-weight="normal" font-size="13.00" fill="#111" stroke="#111" stroke-width="0.55">60</text>
<text transform="translate(97.40,182.90) rotate(-90) scale(1.1202,1.5385)" x="-0.58" y="0" font-family='"Liberation Sans", sans-serif' font-weight="normal" font-size="13.00" fill="#111" stroke="#111" stroke-width="0.55">80</text>
<text transform="translate(97.40,136.20) rotate(-90) scale(0.9201,1.5385)" x="-0.97" y="0" font-family='"Liberation Sans", sans-serif' font-weight="normal" font-size="13.00" fill="#111" stroke="#111" stroke-width="0.55">100</text>
<text transform="translate(97.40,87.70) rotate(-90) scale(0.9201,1.5385)" x="-0.97" y="0" font-family='"Liberation Sans", sans-serif' font-weight="normal" font-size="13.00" fill="#111" stroke="#111" stroke-width="0.55">120</text>
<text transform="translate(77.00,248.20) rotate(-90) scale(1.0672,1.5942)" x="-0.65" y="0" font-family='"Liberation Sans", sans-serif' font-weight="normal" font-size="13.00" fill="#111" stroke="#111" stroke-width="0.55">Counts</text>
<text transform="translate(102.00,392.00) scale(1.3769,1.0814)" x="-0.97" y="0" font-family='"Liberation Sans", sans-serif' font-weight="normal" font-size="13.00" fill="#111" stroke="#111" stroke-width="0.55">10</text>
<text transform="translate(124.40,384.40) scale(1.5000,1.2754)" x="-0.40" y="0" font-family='"Liberation Sans", sans-serif' font-weight="normal" font-size="10.00" fill="#111" stroke="#111" stroke-width="0.55">0</text>
<text transform="translate(205.60,392.00) scale(1.3769,1.0814)" x="-0.97" y="0" font-family='"Liberation Sans", sans-serif' font-weight="normal" font-size="13.00" fill="#111" stroke="#111" stroke-width="0.55">10</text>
<text transform="translate(228.00,384.40) scale(1.1034,1.2754)" x="-0.75" y="0" font-family='"Liberation Sans", sans-serif' font-weight="normal" font-size="10.00" fill="#111" stroke="#111" stroke-width="0.55">1</text>
<text transform="translate(309.20,392.00) scale(1.3769,1.0814)" x="-0.97" y="0" font-family='"Liberation Sans", sans-serif' font-weight="normal" font-size="13.00" fill="#111" stroke="#111" stroke-width="0.55">10</text>
<text transform="translate(331.60,384.40) scale(1.5824,1.2754)" x="-0.50" y="0" font-family='"Liberation Sans", sans-serif' font-weight="normal" font-size="10.00" fill="#111" stroke="#111" stroke-width="0.55">2</text>
<text transform="translate(412.80,392.00) scale(1.3769,1.0814)" x="-0.97" y="0" font-family='"Liberation Sans", sans-serif' font-weight="normal" font-size="13.00" fill="#111" stroke="#111" stroke-width="0.55">10</text>
<text transform="translate(435.20,384.40) scale(1.5158,1.2754)" x="-0.40" y="0" font-family='"Liberation Sans", sans-serif' font-weight="normal" font-size="10.00" fill="#111" stroke="#111" stroke-width="0.55">3</text>
<text transform="translate(516.40,392.00) scale(1.3769,1.0814)" x="-0.97" y="0" font-family='"Liberation Sans", sans-serif' font-weight="normal" font-size="13.00" fill="#111" stroke="#111" stroke-width="0.55">10</text>
<text transform="translate(538.80,384.40) scale(1.4257,1.2754)" x="-0.20" y="0" font-family='"Liberation Sans", sans-serif' font-weight="normal" font-size="10.00" fill="#111" stroke="#111" stroke-width="0.55">4</text>
<text transform="translate(295.60,405.10) scale(1.5061,1.0702)" x="-1.04" y="0" font-family='"Liberation Sans", sans-serif' font-weight="normal" font-size="13.00" fill="#111" stroke="#111" stroke-width="0.55">FL1-H</text>
<line x1="592.50" y1="112.50" x2="654.00" y2="112.50" stroke="#a8a8a8" stroke-width="2.00"/>
<text transform="translate(686.70,125.30) scale(0.9648,1.0382)" x="-1.38" y="0" font-family='"Liberation Serif", serif' font-weight="bold" font-size="27.50" fill="#000">Control</text>
<line x1="592.50" y1="170.60" x2="654.00" y2="170.60" stroke="#e53030" stroke-width="2.00"/>
<text transform="translate(688.10,182.80) scale(0.9991,0.9938)" x="-0.28" y="0" font-family='"Liberation Serif", serif' font-weight="bold" font-size="27.50" fill="#000">ADP</text>
<line x1="592.50" y1="225.90" x2="654.00" y2="225.90" stroke="#8a8a8a" stroke-width="2.00"/>
<text transform="translate(688.10,235.70) scale(0.9836,1.0049)" x="-1.38" y="0" font-family='"Liberation Serif", serif' font-weight="bold" font-size="27.50" fill="#000">CA 5 µM</text>
<line x1="592.50" y1="273.40" x2="654.00" y2="273.40" stroke="#2aa85a" stroke-width="2.00"/>
<text transform="translate(688.90,284.30) scale(0.9784,0.9882)" x="-1.38" y="0" font-family='"Liberation Serif", serif' font-weight="bold" font-size="27.50" fill="#000">CA 25 µM</text>
<line x1="592.50" y1="327.50" x2="654.00" y2="327.50" stroke="#4ab8ee" stroke-width="2.00"/>
<text transform="translate(688.90,338.50) scale(0.9832,0.9882)" x="-1.38" y="0" font-family='"Liberation Serif", serif' font-weight="bold" font-size="27.50" fill="#000">CA 100 µM</text>
<text transform="translate(167.05,756.80) scale(1.2770,1.0000)" x="-1.10" y="0" font-family='"Liberation Serif", serif' font-weight="bold" font-size="27.50" fill="#000">0</text>
<text transform="translate(150.90,701.80) scale(1.2770,1.0000)" x="-2.20" y="0" font-family='"Liberation Serif", serif' font-weight="bold" font-size="27.50" fill="#000">10</text>
<text transform="translate(149.49,646.80) scale(1.2770,1.0000)" x="-1.10" y="0" font-family='"Liberation Serif", serif' font-weight="bold" font-size="27.50" fill="#000">20</text>
<text transform="translate(149.32,591.80) scale(1.2770,1.0000)" x="-0.96" y="0" font-family='"Liberation Serif", serif' font-weight="bold" font-size="27.50" fill="#000">30</text>
<text transform="translate(148.61,536.80) scale(1.2770,1.0000)" x="-0.41" y="0" font-family='"Liberation Serif", serif' font-weight="bold" font-size="27.50" fill="#000">40</text>
<text transform="translate(149.49,481.80) scale(1.2770,1.0000)" x="-1.10" y="0" font-family='"Liberation Serif", serif' font-weight="bold" font-size="27.50" fill="#000">50</text>
<text transform="translate(138.10,685.90) rotate(-90) scale(0.9504,1.1825)" x="-0.41" y="0" font-family='"Liberation Serif", serif' font-weight="bold" font-size="27.50" fill="#000">P-selectin (%)</text>
<text transform="translate(4.30,791.80) scale(1.1216,1.0160)" x="-0.28" y="0" font-family='"Liberation Serif", serif' font-weight="bold" font-size="27.50" fill="#000">ADP (20 µM)</text>
<text transform="translate(42.10,847.30) scale(1.1221,1.0437)" x="-1.38" y="0" font-family='"Liberation Serif", serif' font-weight="bold" font-size="27.50" fill="#000">CA (µM)</text>
<text transform="translate(239.48,790.25) scale(1.1401,1.2185)" x="0" y="0" font-family='"Liberation Serif", serif' font-weight="bold" font-size="28.00" fill="#000">-</text>
<text transform="translate(329.14,790.04) scale(1.3287,1.2538)" x="0" y="0" font-family='"Liberation Serif", serif' font-weight="normal" font-size="28.00" fill="#000">+</text>
<text transform="translate(428.19,790.31) scale(1.2903,1.2462)" x="0" y="0" font-family='"Liberation Serif", serif' font-weight="normal" font-size="28.00" fill="#000">+</text>
<text transform="translate(529.24,790.71) scale(1.3287,1.2462)" x="0" y="0" font-family='"Liberation Serif", serif' font-weight="normal" font-size="28.00" fill="#000">+</text>
<text transform="translate(627.96,789.11) scale(1.2442,1.2462)" x="0" y="0" font-family='"Liberation Serif", serif' font-weight="normal" font-size="28.00" fill="#000">+</text>
<text transform="translate(238.17,849.12) scale(1.1538,1.1765)" x="0" y="0" font-family='"Liberation Serif", serif' font-weight="bold" font-size="28.00" fill="#000">-</text>
<text transform="translate(330.58,849.12) scale(1.1401,1.1765)" x="0" y="0" font-family='"Liberation Serif", serif' font-weight="bold" font-size="28.00" fill="#000">-</text>
<text transform="translate(428.56,847.31) scale(1.2857,1.0204)" x="0" y="0" font-family='"Liberation Serif", serif' font-weight="bold" font-size="28.00" fill="#000">5</text>
<text transform="translate(520.88,847.32) scale(1.1776,1.0128)" x="0" y="0" font-family='"Liberation Serif", serif' font-weight="bold" font-size="28.00" fill="#000">25</text>
<text transform="translate(609.90,847.32) scale(1.1180,1.0053)" x="0" y="0" font-family='"Liberation Serif", serif' font-weight="bold" font-size="28.00" fill="#000">100</text>
<text transform="translate(334.50,489.37) scale(1.2143,1.2035)" x="0" y="0" font-family='"Liberation Serif", serif' font-weight="normal" font-size="28.00" fill="#000" stroke="#000" stroke-width="0.4">*</text>
<text transform="translate(529.12,579.00) scale(1.3898,1.0414)" x="0" y="0" font-family='"Liberation Serif", serif' font-weight="normal" font-size="28.00" fill="#000" stroke="#000" stroke-width="0.5">#</text>
<text transform="translate(628.22,631.90) scale(1.3975,1.0578)" x="0" y="0" font-family='"Liberation Serif", serif' font-weight="normal" font-size="28.00" fill="#000" stroke="#000" stroke-width="0.5">#</text>
<text transform="translate(1007.56,323.30) scale(1.2570,1.0000)" x="-1.12" y="0" font-family='"Liberation Serif", serif' font-weight="bold" font-size="28.10" fill="#000">0</text>
<text transform="translate(991.32,265.24) scale(1.2570,1.0000)" x="-2.25" y="0" font-family='"Liberation Serif", serif' font-weight="bold" font-size="28.10" fill="#000">10</text>
<text transform="translate(989.90,207.18) scale(1.2570,1.0000)" x="-1.12" y="0" font-family='"Liberation Serif", serif' font-weight="bold" font-size="28.10" fill="#000">20</text>
<text transform="translate(989.73,149.12) scale(1.2570,1.0000)" x="-0.98" y="0" font-family='"Liberation Serif", serif' font-weight="bold" font-size="28.10" fill="#000">30</text>
<text transform="translate(989.02,91.06) scale(1.2570,1.0000)" x="-0.42" y="0" font-family='"Liberation Serif", serif' font-weight="bold" font-size="28.10" fill="#000">40</text>
<text transform="translate(989.90,33.00) scale(1.2570,1.0000)" x="-1.12" y="0" font-family='"Liberation Serif", serif' font-weight="bold" font-size="28.10" fill="#000">50</text>
<text transform="translate(976.90,273.20) rotate(-90) scale(1.0054,1.1614)" x="-0.28" y="0" font-family='"Liberation Serif", serif' font-weight="bold" font-size="28.00" fill="#000">ATP release (nM)</text>
<text transform="translate(878.40,364.30) scale(1.1053,1.0360)" x="-0.28" y="0" font-family='"Liberation Serif", serif' font-weight="bold" font-size="28.00" fill="#000">ADP (20 µM)</text>
<text transform="translate(911.20,406.40) scale(1.1116,1.0360)" x="-1.40" y="0" font-family='"Liberation Serif", serif' font-weight="bold" font-size="28.00" fill="#000">CA (µM)</text>
<text transform="translate(1085.84,364.32) scale(1.1813,1.1765)" x="0" y="0" font-family='"Liberation Serif", serif' font-weight="bold" font-size="28.00" fill="#000">-</text>
<text transform="translate(1183.83,363.34) scale(1.2673,1.2538)" x="0" y="0" font-family='"Liberation Serif", serif' font-weight="normal" font-size="28.00" fill="#000">+</text>
<text transform="translate(1285.32,363.34) scale(1.2750,1.2538)" x="0" y="0" font-family='"Liberation Serif", serif' font-weight="normal" font-size="28.00" fill="#000">+</text>
<text transform="translate(1388.23,363.34) scale(1.2673,1.2538)" x="0" y="0" font-family='"Liberation Serif", serif' font-weight="normal" font-size="28.00" fill="#000">+</text>
<text transform="translate(1488.53,363.34) scale(1.2673,1.2538)" x="0" y="0" font-family='"Liberation Serif", serif' font-weight="normal" font-size="28.00" fill="#000">+</text>
<text transform="translate(1083.33,408.12) scale(1.1951,1.1765)" x="0" y="0" font-family='"Liberation Serif", serif' font-weight="bold" font-size="28.00" fill="#000">-</text>
<text transform="translate(1184.83,408.12) scale(1.1951,1.1765)" x="0" y="0" font-family='"Liberation Serif", serif' font-weight="bold" font-size="28.00" fill="#000">-</text>
<text transform="translate(1285.74,405.11) scale(1.2185,1.0473)" x="0" y="0" font-family='"Liberation Serif", serif' font-weight="bold" font-size="28.00" fill="#000">5</text>
<text transform="translate(1378.54,405.11) scale(1.1274,1.0394)" x="0" y="0" font-family='"Liberation Serif", serif' font-weight="bold" font-size="28.00" fill="#000">25</text>
<text transform="translate(1473.34,405.11) scale(1.0999,1.0317)" x="0" y="0" font-family='"Liberation Serif", serif' font-weight="bold" font-size="28.00" fill="#000">100</text>
<text transform="translate(1181.20,40.89) scale(1.2143,1.2916)" x="0" y="0" font-family='"Liberation Serif", serif' font-weight="normal" font-size="28.00" fill="#000" stroke="#000" stroke-width="0.4">*</text>
<text transform="translate(1390.12,145.40) scale(1.3975,1.1287)" x="0" y="0" font-family='"Liberation Serif", serif' font-weight="normal" font-size="28.00" fill="#000" stroke="#000" stroke-width="0.5">#</text>
<text transform="translate(1495.33,212.50) scale(1.3820,1.1232)" x="0" y="0" font-family='"Liberation Serif", serif' font-weight="normal" font-size="28.00" fill="#000" stroke="#000" stroke-width="0.5">#</text>
<text transform="translate(1001.26,757.40) scale(1.3160,1.0000)" x="-1.13" y="0" font-family='"Liberation Serif", serif' font-weight="bold" font-size="28.30" fill="#000">0</text>
<text transform="translate(964.02,685.30) scale(1.3160,1.0000)" x="-1.13" y="0" font-family='"Liberation Serif", serif' font-weight="bold" font-size="28.30" fill="#000">200</text>
<text transform="translate(963.08,613.20) scale(1.3160,1.0000)" x="-0.42" y="0" font-family='"Liberation Serif", serif' font-weight="bold" font-size="28.30" fill="#000">400</text>
<text transform="translate(963.83,541.10) scale(1.3160,1.0000)" x="-0.99" y="0" font-family='"Liberation Serif", serif' font-weight="bold" font-size="28.30" fill="#000">600</text>
<text transform="translate(963.83,469.00) scale(1.3160,1.0000)" x="-0.99" y="0" font-family='"Liberation Serif", serif' font-weight="bold" font-size="28.30" fill="#000">800</text>
<text transform="translate(903.80,705.00) rotate(-90) scale(1.0108,1.3134)" x="-0.95" y="0" font-family='"Liberation Serif", serif' font-weight="bold" font-size="27.20" fill="#000">Intracellular Ca</text>
<text transform="translate(887.70,517.61) rotate(-90) scale(1.2628,1.3920)" x="0" y="0" font-family='"Liberation Serif", serif' font-weight="bold" font-size="16.00" fill="#000">2+</text>
<text transform="translate(944.90,713.90) rotate(-90) scale(1.0053,1.2966)" x="-0.95" y="0" font-family='"Liberation Serif", serif' font-weight="bold" font-size="27.20" fill="#000">concentration (nM)</text>
<text transform="translate(860.40,814.30) scale(1.1053,1.0360)" x="-0.28" y="0" font-family='"Liberation Serif", serif' font-weight="bold" font-size="28.00" fill="#000">ADP (20 µM)</text>
<text transform="translate(896.00,855.60) scale(1.1088,1.0687)" x="-1.40" y="0" font-family='"Liberation Serif", serif' font-weight="bold" font-size="28.00" fill="#000">CA (µM)</text>
<text transform="translate(1083.44,812.99) scale(1.1813,1.1345)" x="0" y="0" font-family='"Liberation Serif", serif' font-weight="bold" font-size="28.00" fill="#000">-</text>
<text transform="translate(1189.97,812.54) scale(1.3057,1.2918)" x="0" y="0" font-family='"Liberation Serif", serif' font-weight="normal" font-size="28.00" fill="#000">+</text>
<text transform="translate(1295.27,812.54) scale(1.3057,1.2918)" x="0" y="0" font-family='"Liberation Serif", serif' font-weight="normal" font-size="28.00" fill="#000">+</text>
<text transform="translate(1405.87,812.54) scale(1.3057,1.2918)" x="0" y="0" font-family='"Liberation Serif", serif' font-weight="normal" font-size="28.00" fill="#000">+</text>
<text transform="translate(1512.47,812.54) scale(1.3057,1.2918)" x="0" y="0" font-family='"Liberation Serif", serif' font-weight="normal" font-size="28.00" fill="#000">+</text>
<text transform="translate(1082.03,856.26) scale(1.1951,1.0924)" x="0" y="0" font-family='"Liberation Serif", serif' font-weight="bold" font-size="28.00" fill="#000">-</text>
<text transform="translate(1191.36,856.26) scale(1.1676,1.0924)" x="0" y="0" font-family='"Liberation Serif", serif' font-weight="bold" font-size="28.00" fill="#000">-</text>
<text transform="translate(1296.58,854.70) scale(1.1765,1.0580)" x="0" y="0" font-family='"Liberation Serif", serif' font-weight="bold" font-size="28.00" fill="#000">5</text>
<text transform="translate(1393.69,854.71) scale(1.1660,1.0501)" x="0" y="0" font-family='"Liberation Serif", serif' font-weight="bold" font-size="28.00" fill="#000">25</text>
<text transform="translate(1497.66,854.71) scale(1.1335,1.0423)" x="0" y="0" font-family='"Liberation Serif", serif' font-weight="bold" font-size="28.00" fill="#000">100</text>
<text transform="translate(1183.50,471.71) scale(1.4286,1.2818)" x="0" y="0" font-family='"Liberation Serif", serif' font-weight="normal" font-size="28.00" fill="#000" stroke="#000" stroke-width="0.4">*</text>
<text transform="translate(1399.13,623.70) scale(1.3820,1.1123)" x="0" y="0" font-family='"Liberation Serif", serif' font-weight="normal" font-size="28.00" fill="#000" stroke="#000" stroke-width="0.5">#</text>
<text transform="translate(1506.93,692.90) scale(1.3820,1.1014)" x="0" y="0" font-family='"Liberation Serif", serif' font-weight="normal" font-size="28.00" fill="#000" stroke="#000" stroke-width="0.5">#</text>
</svg>
</body></html>
